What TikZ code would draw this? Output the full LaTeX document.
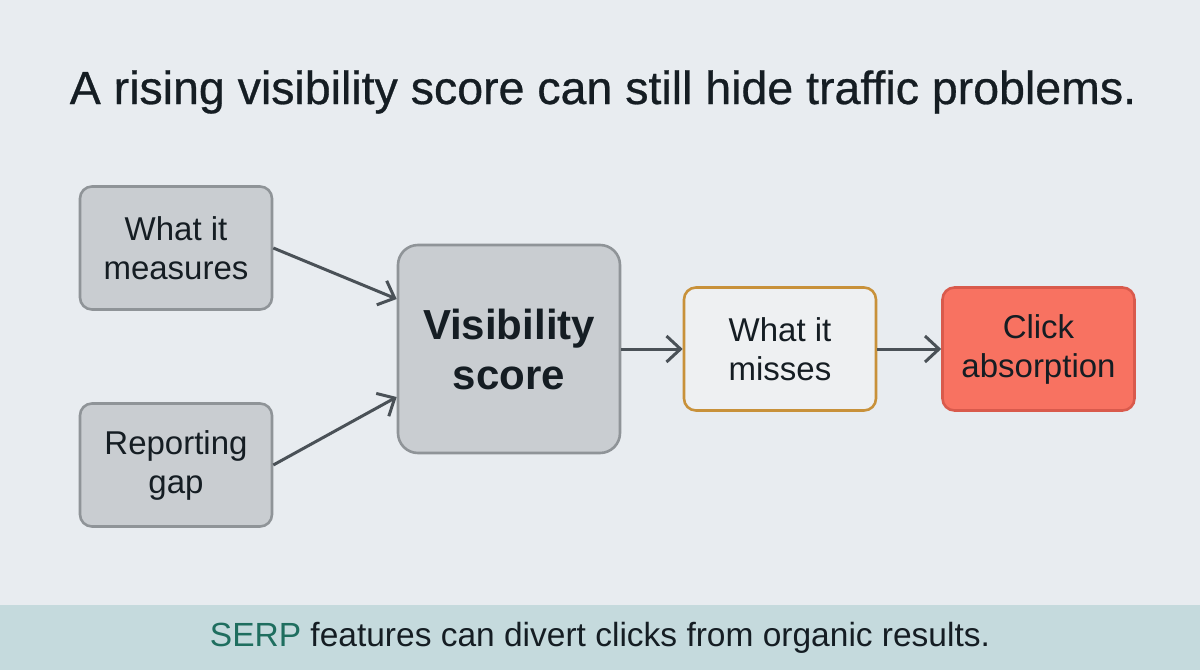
\documentclass[tikz,border=0pt]{standalone}
\usepackage{fontspec}
\setmainfont{Liberation Sans}
\newfontfamily\titlefont{Liberation Sans}[FakeBold=0.6]
\usetikzlibrary{arrows.meta,calc}
\definecolor{bg}{HTML}{E8ECF0}
\definecolor{band}{HTML}{C5DADD}
\definecolor{grayfill}{HTML}{C9CDD1}
\definecolor{grayline}{HTML}{8F9498}
\definecolor{ink}{HTML}{151D23}
\definecolor{arrowc}{HTML}{4A5157}
\definecolor{missfill}{HTML}{EEF0F2}
\definecolor{missline}{HTML}{C8913A}
\definecolor{clickfill}{HTML}{F87261}
\definecolor{clickline}{HTML}{D95A4C}
\definecolor{serp}{HTML}{1F6E5F}
\tikzset{
  box/.style={draw=grayline, fill=grayfill, line width=2.6pt, rounded corners=12pt,
    minimum width=192pt, minimum height=123pt, align=center, text=ink,
    font=\fontsize{33}{39}\selectfont, inner sep=0pt},
  bigbox/.style={box, minimum width=222pt, minimum height=208pt, rounded corners=20pt,
    font=\fontsize{42}{50}\selectfont\bfseries},
  missbox/.style={box, draw=missline, fill=missfill},
  clickbox/.style={box, draw=clickline, fill=clickfill},
  arr/.style={draw=arrowc, line width=3pt, -{Straight Barb[length=14pt, width=26pt, line width=3pt]}}
}
\begin{document}
\begin{tikzpicture}[x=1pt, y=-1pt]
\useasboundingbox (0,0) rectangle (1200,670);
\fill[bg] (0,0) rectangle (1200,670);
\fill[band] (0,605) rectangle (1200,670);
\node[text=ink, font=\titlefont\fontsize{46.5}{52}\selectfont] (title) at (603,92) {A rising visibility score can still hide traffic problems.};
\node[box] (meas) at (176,248) {What it\\measures};
\node[box] (gap) at (176,465) {Reporting\\gap};
\node[bigbox] (vs) at (509,349) {Visibility\\score};
\node[missbox] (miss) at (780,349) {What it\\misses};
\node[clickbox] (click) at (1038.5,349) {Click\\absorption};
\draw[arr] (meas.east) -- ([yshift=50pt]vs.west);
\draw[arr] (gap.east) -- ([yshift=-48pt]vs.west);
\draw[arr] (vs.east) -- (miss.west);
\draw[arr] (miss.east) -- (click.west);
\node[font=\fontsize{33.5}{38}\selectfont, text=ink] (foot) at (600,638) {\textcolor{serp}{SERP} features can divert clicks from organic results.};
\end{tikzpicture}
\end{document}
